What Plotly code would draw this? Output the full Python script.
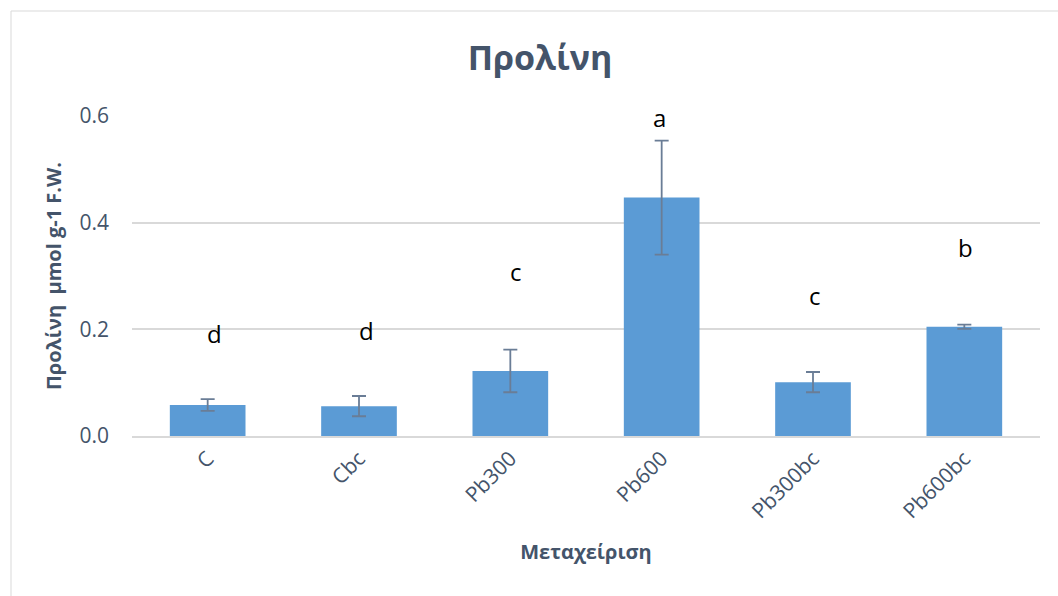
import plotly.graph_objects as go

# Treatments and proline content (μmol g-1 F.W.)
treatments = ["C", "Cbc", "Pb300", "Pb600", "Pb300bc", "Pb600bc"]
proline = [0.058, 0.056, 0.122, 0.447, 0.101, 0.205]
proline_err = [0.011, 0.019, 0.040, 0.107, 0.019, 0.004]

# Significance letters and the height at which each is written
sig_letters = ["d", "d", "c", "a", "c", "b"]
letter_y = [0.193, 0.197, 0.308, 0.598, 0.263, 0.353]
letter_xshift = [7, 7, 6, -2, 2, 1]

TEXT = "#44546A"
GRID = "#D9D9D9"

fig = go.Figure()
fig.add_trace(go.Bar(
    x=treatments,
    y=proline,
    width=0.5,
    marker=dict(color="#5B9BD5", line=dict(width=0)),
    error_y=dict(type="data", array=proline_err, visible=True,
                 color="#6A7D96", thickness=1.8, width=7),
    showlegend=False,
))

for t, lab, yy, dx in zip(treatments, sig_letters, letter_y, letter_xshift):
    fig.add_annotation(x=t, y=yy, text=lab, showarrow=False, xshift=dx,
                       font=dict(family="Open Sans, Liberation Sans", size=24, color="#000000"))

# left/top frame lines around the chart area
L, T, B = 132, 116, 436
W, H = 908, 320
def px(v):
    return (v - L) / W
def py(v):
    return (B - v) / H

fig.add_shape(type="rect", xref="paper", yref="paper",
              x0=px(11), x1=px(1080), y0=py(620), y1=py(11),
              line=dict(color="#D9D9D9", width=1), fillcolor="rgba(0,0,0,0)",
              layer="below")

fig.update_layout(
    width=1058, height=596,
    margin=dict(l=L, r=1058 - L - W, t=T, b=596 - B),
    paper_bgcolor="white", plot_bgcolor="white",
    font=dict(family="Open Sans, Noto Sans", color=TEXT),
    title=dict(text="<b>Προλίνη</b>", x=540 / 1058, xanchor="center",
               y=1 - 58 / 596, yanchor="middle",
               font=dict(size=34, color=TEXT, family="Open Sans, Noto Sans")),
    bargap=0.5,
)
fig.update_xaxes(
    tickangle=-45, tickfont=dict(size=21, color=TEXT),
    showline=True, linecolor=GRID, linewidth=2, ticks="",
    title=dict(text="<b>Μεταχείριση</b>", font=dict(size=20, color=TEXT), standoff=22),
)
fig.update_yaxes(
    range=[0, 0.6], tickvals=[0, 0.2, 0.4, 0.6], ticktext=["0.0", "0.2", "0.4", "0.6"],
    tickfont=dict(size=21, color=TEXT), showgrid=True, gridcolor=GRID, gridwidth=1.5,
    zeroline=False, ticks="", ticklen=0, ticklabelstandoff=22,
    title=dict(text="<b>Προλίνη  μmol g-1 F.W.</b>", font=dict(size=20, color=TEXT), standoff=12),
)

fig.write_html("out.html")
